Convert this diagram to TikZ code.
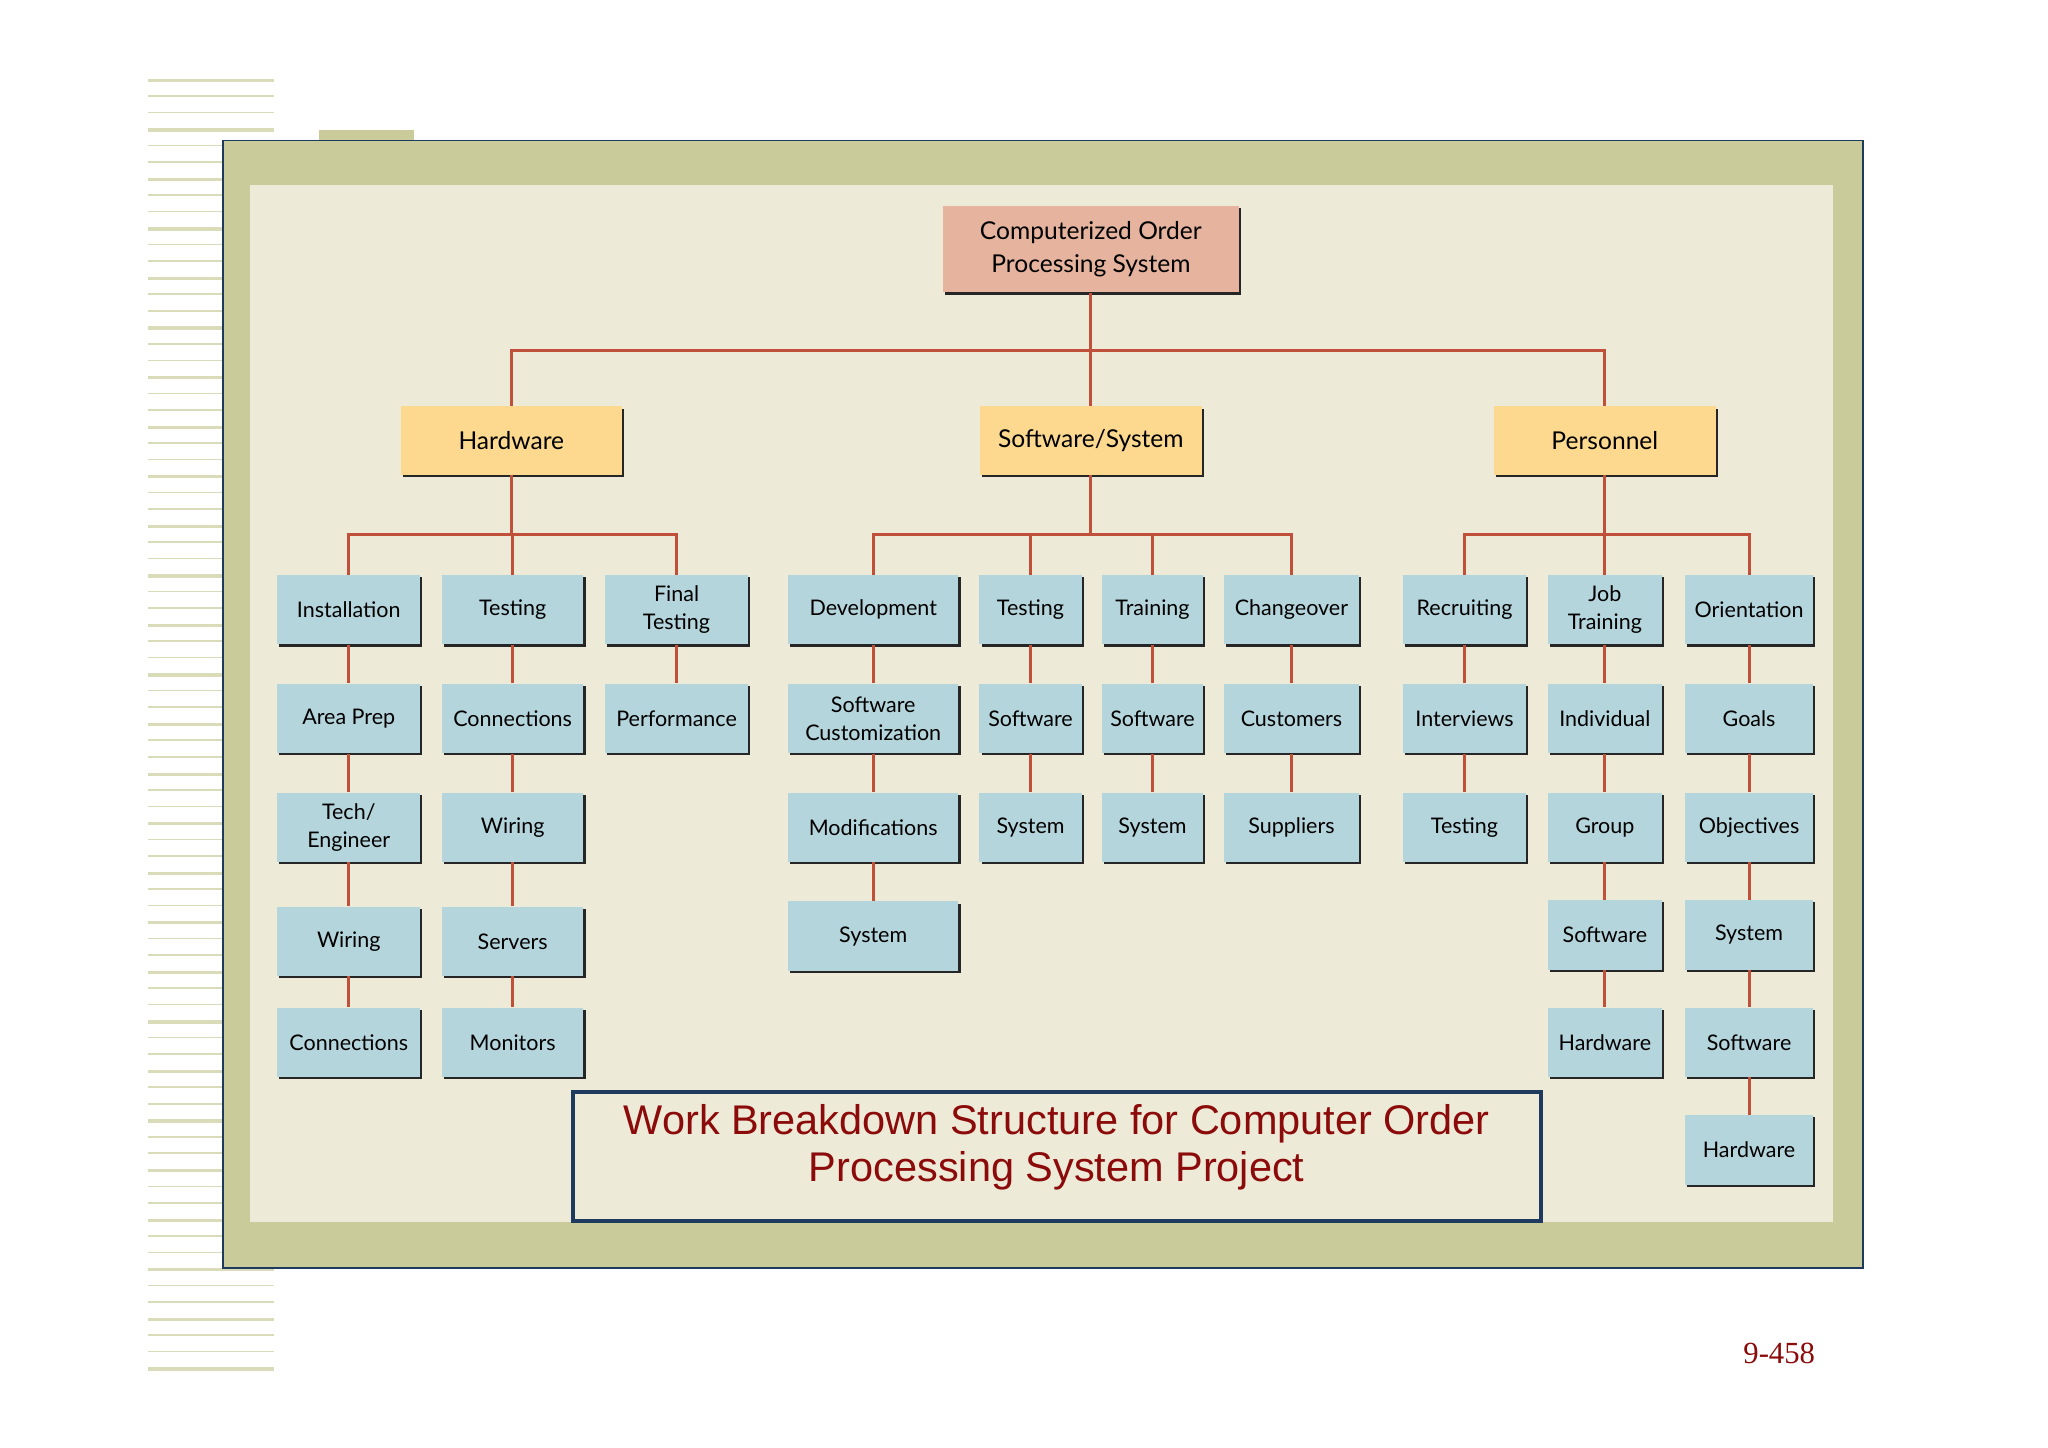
\documentclass[tikz,border=0pt]{standalone}
\usepackage{fontspec}
\setmainfont{Lato}
\newfontfamily\arialf{Liberation Sans}
\newfontfamily\timesf{Liberation Serif}
\usetikzlibrary{shadows}
\definecolor{olive}{HTML}{C9CB9B}
\definecolor{inner}{HTML}{EEEAD8}
\definecolor{navy}{HTML}{1F3A5F}
\definecolor{lred}{HTML}{C0503A}
\definecolor{bluebox}{HTML}{B5D5DC}
\definecolor{yelbox}{HTML}{FCD98E}
\definecolor{salbox}{HTML}{E6B49E}
\definecolor{dred}{HTML}{8B0A0A}
\begin{document}
\begin{tikzpicture}[x=0.03cm,y=-0.03cm,
  box/.style={draw=none,fill=bluebox,minimum height=1.59cm,inner sep=1pt,align=center,
    font=\fontsize{14}{18}\selectfont,
    drop shadow={shadow xshift=1.4pt,shadow yshift=-1.4pt,fill=black!85,opacity=1}},
  lvl/.style={box,fill=yelbox,minimum height=1.56cm,font=\fontsize{16}{18}\selectfont},
  ln/.style={draw=lred,line width=2pt}]
\useasboundingbox (0,0) rectangle (1562,1104);
\fill[white] (0,0) rectangle (1562,1104);
% stripes
\foreach \i in {0,...,78}{
  \pgfmathsetmacro{\yy}{60+\i*12.6}
  \pgfmathsetmacro{\ww}{mod(\i,3)==0 ? 2.5 : 1.2}
  \fill[olive!70] (113,\yy) rectangle (209,\yy+\ww);
}
\fill[olive] (243,99) rectangle (316,108);
\draw[navy,fill=olive,line width=1pt] (170,107) rectangle (1421,967);
\fill[inner] (191,141) rectangle (1398,932);
% root and level 1
\node[box,fill=salbox,minimum width=6.78cm,minimum height=1.98cm,font=\fontsize{16}{21}\selectfont] (root) at (832,190) {Computerized Order\\Processing System};
\node[lvl,minimum width=5.07cm] (hw) at (390,336) {Hardware};
\node[lvl,minimum width=5.07cm] (sw) at (832,336) {Software/System};
\node[lvl,minimum width=5.07cm] (pe) at (1224,336) {Personnel};
% level 2
\node[box,minimum width=3.27cm] (a1) at (266,465) {Installation};
\node[box,minimum width=3.24cm] (b1) at (391,465) {Testing};
\node[box,minimum width=3.27cm] (c1) at (516,465) {Final\\Testing};
\node[box,minimum width=3.9cm] (d1) at (666,465) {Development};
\node[box,minimum width=2.34cm] (e1) at (786,465) {Testing};
\node[box,minimum width=2.31cm] (f1) at (879,465) {Training};
\node[box,minimum width=3.09cm] (g1) at (985,465) {Changeover};
\node[box,minimum width=2.82cm] (h1) at (1117,465) {Recruiting};
\node[box,minimum width=2.61cm] (i1) at (1224,465) {Job\\Training};
\node[box,minimum width=2.94cm] (j1) at (1334,465) {Orientation};
% rows
\node[box,minimum width=3.27cm] (a2) at (266,548) {Area Prep};
\node[box,minimum width=3.27cm] (a3) at (266,631) {Tech/\\Engineer};
\node[box,minimum width=3.27cm] (a4) at (266,718) {Wiring};
\node[box,minimum width=3.27cm] (a5) at (266,795) {Connections};
\node[box,minimum width=3.24cm] (b2) at (391,548) {Connections};
\node[box,minimum width=3.24cm] (b3) at (391,631) {Wiring};
\node[box,minimum width=3.24cm] (b4) at (391,718) {Servers};
\node[box,minimum width=3.24cm] (b5) at (391,795) {Monitors};
\node[box,minimum width=3.27cm] (c2) at (516,548) {Performance};
\node[box,minimum width=3.9cm] (d2) at (666,548) {Software\\Customization};
\node[box,minimum width=3.9cm] (d3) at (666,631) {Modifications};
\node[box,minimum width=3.9cm] (d4) at (666,714) {System};
\node[box,minimum width=2.34cm] (e2) at (786,548) {Software};
\node[box,minimum width=2.34cm] (e3) at (786,631) {System};
\node[box,minimum width=2.31cm] (f2) at (879,548) {Software};
\node[box,minimum width=2.31cm] (f3) at (879,631) {System};
\node[box,minimum width=3.09cm] (g2) at (985,548) {Customers};
\node[box,minimum width=3.09cm] (g3) at (985,631) {Suppliers};
\node[box,minimum width=2.82cm] (h2) at (1117,548) {Interviews};
\node[box,minimum width=2.82cm] (h3) at (1117,631) {Testing};
\node[box,minimum width=2.61cm] (i2) at (1224,548) {Individual};
\node[box,minimum width=2.61cm] (i3) at (1224,631) {Group};
\node[box,minimum width=2.61cm] (i4) at (1224,713) {Software};
\node[box,minimum width=2.61cm] (i5) at (1224,795) {Hardware};
\node[box,minimum width=2.94cm] (j2) at (1334,548) {Goals};
\node[box,minimum width=2.94cm] (j3) at (1334,631) {Objectives};
\node[box,minimum width=2.94cm] (j4) at (1334,713) {System};
\node[box,minimum width=2.94cm] (j5) at (1334,795) {Software};
\node[box,minimum width=2.94cm] (j6) at (1334,877) {Hardware};
% connectors
\coordinate (bus) at (832,267);
\draw[ln] (root.south) -- (sw.north);
\draw[ln] (hw.north) |- (bus) -| (pe.north);
\foreach \p/\l/\r/\m in {hw/a1/c1/b1, sw/d1/g1/e1, pe/h1/j1/i1}{
  \draw[ln] (\p.south) -- (\p.south |- 0,408);
  \draw[ln] (\l.north) |- (\p.south |- 0,408) -| (\r.north);
  \draw[ln] (\m.north) -- (\m.north |- 0,408);
}
\draw[ln] (f1.north) -- (f1.north |- 0,408);
\foreach \a/\b in {a1/a2,a2/a3,a3/a4,a4/a5,b1/b2,b2/b3,b3/b4,b4/b5,c1/c2,d1/d2,d2/d3,d3/d4,
  e1/e2,e2/e3,f1/f2,f2/f3,g1/g2,g2/g3,h1/h2,h2/h3,i1/i2,i2/i3,i3/i4,i4/i5,j1/j2,j2/j3,j3/j4,j4/j5,j5/j6}
  \draw[ln] (\a.south) -- (\b.north);
% title
\draw[navy,line width=2.5pt,fill=inner] (437,833) rectangle (1175,931);
\node[inner sep=0pt,align=center,text=dred,font=\arialf\fontsize{27}{31}\selectfont] (title) at (806,875)
  {Work Breakdown Structure for Computer Order\\Processing System Project};
\node[text=dred,font=\timesf\fontsize{20}{22}\selectfont] (pg) at (1357,1032) {9-458};
\end{tikzpicture}
\end{document}
